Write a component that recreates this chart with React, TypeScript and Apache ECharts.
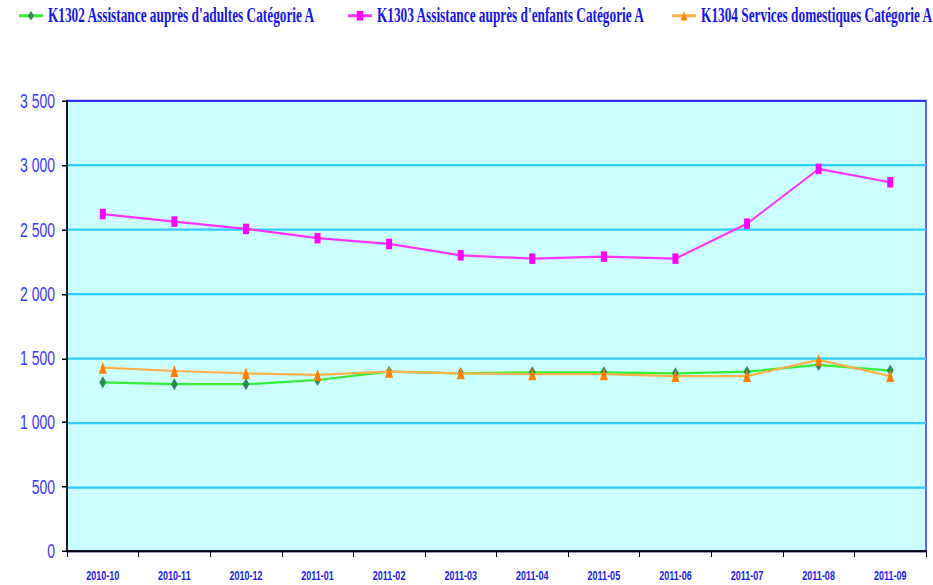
import React, { useEffect, useRef } from "react";
import * as echarts from "echarts";

const categories = ["2010-10", "2010-11", "2010-12", "2011-01", "2011-02", "2011-03", "2011-04", "2011-05", "2011-06", "2011-07", "2011-08", "2011-09"];
const k1302 = [1312, 1297, 1297, 1330, 1395, 1382, 1390, 1390, 1382, 1395, 1447, 1403];
const k1303 = [2621, 2562, 2505, 2433, 2388, 2300, 2274, 2290, 2274, 2546, 2972, 2868];
const k1304 = [1426, 1400, 1382, 1369, 1395, 1382, 1375, 1375, 1361, 1361, 1486, 1361];
const seriesNames = [
  "K1302 Assistance auprès d'adultes Catégorie A",
  "K1303 Assistance auprès d'enfants Catégorie A",
  "K1304 Services domestiques Catégorie A",
];
const yMin = 0;
const yMax = 3500;
const yInterval = 500;

const SCALE_Y = 1.5;
const W = 933;
const H = 585 / SCALE_Y;

const legendText = {
  fontFamily: "'Liberation Serif', 'Times New Roman', serif",
  fontWeight: "bold" as const,
  fontSize: 13.3,
  color: "#1414e6",
};

export default function App() {
  const ref = useRef<HTMLDivElement>(null);
  useEffect(() => {
    if (!ref.current) return;
    const chart = echarts.init(ref.current, undefined, { renderer: "svg" });
    const legendCommon = {
      top: 4,
      padding: 0,
      itemWidth: 24,
      itemHeight: 8,
      itemGap: 5,
      textStyle: legendText,
    };
    chart.setOption({
      animation: false,
      backgroundColor: "#ffffff",
      legend: [
        { ...legendCommon, left: 18, data: [seriesNames[0]] },
        { ...legendCommon, left: 347, data: [seriesNames[1]] },
        { ...legendCommon, right: 0, data: [seriesNames[2]] },
      ],
      grid: {
        left: 67,
        right: 7,
        top: 101 / SCALE_Y,
        bottom: (585 - 551) / SCALE_Y,
        show: true,
        backgroundColor: "#ccffff",
        borderColor: "#3030f0",
        borderWidth: 1.5,
        containLabel: false,
      },
      xAxis: {
        type: "category",
        data: categories,
        boundaryGap: true,
        axisLine: { show: true, lineStyle: { color: "#000000", width: 1.3 } },
        axisTick: { show: true, length: 4, alignWithLabel: false, lineStyle: { color: "#000000", width: 1 } },
        axisLabel: {
          interval: 0,
          margin: 12,
          color: "#1a1aee",
          fontFamily: "'Liberation Sans', Arial, sans-serif",
          fontWeight: "bold",
          fontSize: 9,
        },
        splitLine: { show: false },
      },
      yAxis: {
        type: "value",
        min: yMin,
        max: yMax,
        interval: yInterval,
        axisLine: { show: true, lineStyle: { color: "#000000", width: 1.5 } },
        axisTick: { show: true, length: 5, lineStyle: { color: "#000000", width: 1 } },
        axisLabel: {
          margin: 12,
          color: "#3a3aff",
          fontFamily: "'Liberation Sans', Arial, sans-serif",
          fontSize: 14,
          formatter: (v: number) => {
            const s = String(Math.round(v));
            return s.replace(/\B(?=(\d{3})+(?!\d))/g, " ");
          },
        },
        splitLine: { show: true, showMaxLine: false, showMinLine: false, lineStyle: { color: "#33ccff", width: 1.5 } },
      },
      series: [
        {
          name: seriesNames[0],
          type: "line",
          data: k1302,
          symbol: "diamond",
          symbolSize: [7, 8],
          showAllSymbol: true,
          lineStyle: { color: "#33ee33", width: 1.5 },
          itemStyle: { color: "#2e8b57" },
          z: 3,
        },
        {
          name: seriesNames[1],
          type: "line",
          data: k1303,
          symbol: "rect",
          symbolSize: [6, 7],
          showAllSymbol: true,
          lineStyle: { color: "#ff33ff", width: 1.5 },
          itemStyle: { color: "#ff00ff" },
          z: 3,
        },
        {
          name: seriesNames[2],
          type: "line",
          data: k1304,
          symbol: "triangle",
          symbolSize: [8, 8],
          showAllSymbol: true,
          lineStyle: { color: "#ffb04a", width: 1.5 },
          itemStyle: { color: "#ff8000" },
          z: 4,
        },
      ],
    });
    return () => chart.dispose();
  }, []);
  return (
    <div
      style={{
        position: "fixed",
        left: 0,
        top: 0,
        width: W,
        height: 585,
        overflow: "hidden",
        background: "#ffffff",
      }}
    >
      <div
        ref={ref}
        style={{
          width: W,
          height: H,
          transform: `scaleY(${SCALE_Y})`,
          transformOrigin: "0 0",
        }}
      />
    </div>
  );
}
